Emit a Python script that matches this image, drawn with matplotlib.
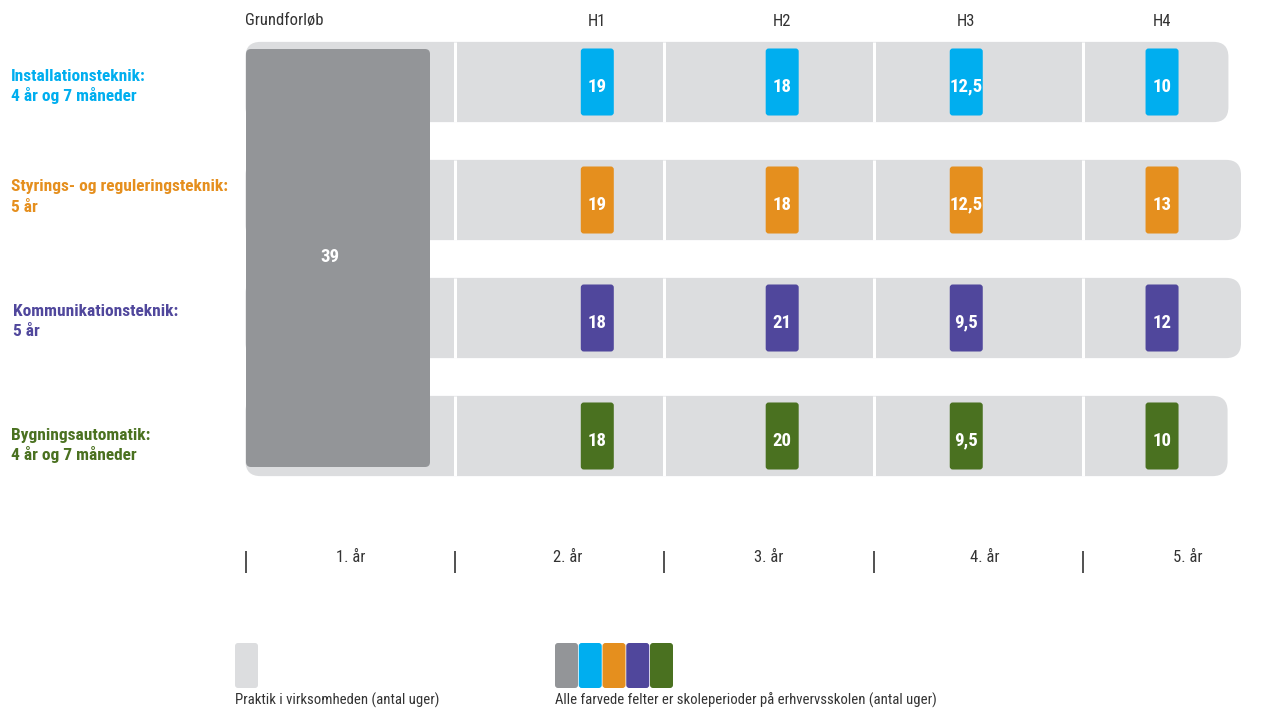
import matplotlib
matplotlib.use('Agg')
import matplotlib.pyplot as plt
from matplotlib.patches import FancyBboxPatch

plt.rcParams['font.family'] = ['Roboto Condensed', 'DejaVu Sans']
plt.rcParams['font.stretch'] = 'condensed'

# --- data ---
programmes = ['Installationsteknik:', 'Styrings- og reguleringsteknik:',
              'Kommunikationsteknik:', 'Bygningsautomatik:']
durations = ['4 år og 7 måneder', '5 år', '5 år', '4 år og 7 måneder']
prog_colors = ['#00AEEF', '#E58F1E', '#50479C', '#4A7120']
periods = ['H1', 'H2', 'H3', 'H4']
weeks = [[19, 18, 12.5, 10],
         [19, 18, 12.5, 13],
         [18, 21, 9.5, 12],
         [18, 20, 9.5, 10]]
grund_label = 'Grundforløb'
grund_weeks = 39
year_labels = ['1. år', '2. år', '3. år', '4. år', '5. år']
legend_texts = ['Praktik i virksomheden (antal uger)',
                'Alle farvede felter er skoleperioder på erhvervsskolen (antal uger)']

# --- layout (x in years, y in rows) ---
period_x = [1.68, 2.563, 3.442, 4.377]
row_end = [4.694, 4.754, 4.754, 4.69]
year_label_x = [0.5, 1.54, 2.5, 3.53, 4.5]
label_dy = [4, -3.5, 2.5, 9]   # pixel nudges of the left labels

LIGHT = '#DCDDDF'
DARK = '#939598'
TXT = '#333333'

X0, XPX = 245.5, 209.4    # pixel of year 0, pixels per year
Y0, YPX = 82, 118         # pixel of row 0 centre, pixels per row
ASP = XPX / YPX


def px(p):
    return p / XPX


def rbox(ax, x, y, w, h, r, fc, z=1):
    ax.add_patch(FancyBboxPatch((x, y), w, h,
                                boxstyle=f'round,pad=0,rounding_size={px(r)}',
                                mutation_aspect=ASP, fc=fc, ec='none', zorder=z))


fig = plt.figure(figsize=(12.83, 7.10), dpi=100)
ax = fig.add_axes([0, 0, 1, 1])
ax.set_xlim(-X0 / XPX, (1283 - X0) / XPX)
ax.set_ylim((710 - Y0) / YPX, -Y0 / YPX)
ax.axis('off')

half = 0.34
for i in range(len(programmes)):
    rbox(ax, 0, i - half, row_end[i], 2 * half, 15, LIGHT, 1)
    ax.vlines([1, 2, 3, 4], i - half, i + half, colors='white', lw=2.2, zorder=2)
    for j, w in enumerate(weeks[i]):
        bw, bh = px(33), 0.568
        rbox(ax, period_x[j] - bw / 2, i - bh / 2, bw, bh, 3, prog_colors[i], 3)
        ax.text(period_x[j], i + 0.04, f'{w:g}'.replace('.', ','), color='white',
                fontsize=13.5, fontweight='bold', ha='center', va='center', zorder=4)
    lx = -1.122 + (px(2) if i == 2 else 0)
    ax.text(lx, i + (label_dy[i] - 5) / YPX, programmes[i], color=prog_colors[i],
            fontsize=12.5, fontweight='bold', ha='left', va='baseline')
    ax.text(lx, i + (label_dy[i] + 15) / YPX, durations[i], color=prog_colors[i],
            fontsize=12.5, fontweight='bold', ha='left', va='baseline')

# Grundforløb block
rbox(ax, px(0.5), (49 - Y0) / YPX, px(184), (467 - 49) / YPX, 5, DARK, 3)
ax.text(0.405, (257 - Y0) / YPX, str(grund_weeks), color='white', fontsize=13.5,
        fontweight='bold', ha='center', va='center', zorder=4)

# headers
ax.text(0, (21 - Y0) / YPX, grund_label, color=TXT, fontsize=12,
        ha='left', va='center')
for j, p in enumerate(periods):
    ax.text(period_x[j], (22 - Y0) / YPX, p, color=TXT, fontsize=12,
            ha='center', va='center')

# year axis
ax.vlines([0, 1, 2, 3, 4], (551 - Y0) / YPX, (573 - Y0) / YPX, colors=TXT, lw=1.2)
for k, lab in enumerate(year_labels):
    ax.text(year_label_x[k], (557 - Y0) / YPX, lab, color=TXT, fontsize=12,
            ha='center', va='center')

# legend
ly, lh = (643 - Y0) / YPX, 45 / YPX
rbox(ax, px(-10.5), ly, px(23), lh, 3, LIGHT, 1)
for k, c in enumerate([DARK] + prog_colors):
    rbox(ax, px(309.5 + k * 23.75), ly, px(23), lh, 3, c, 1)
ax.text(px(-10.5), (708 - Y0) / YPX, legend_texts[0], color=TXT, fontsize=10.6,
        ha='left', va='bottom')
ax.text(px(309.5), (708 - Y0) / YPX, legend_texts[1], color=TXT, fontsize=10.6,
        ha='left', va='bottom')

fig.savefig('out.png', dpi=100)
